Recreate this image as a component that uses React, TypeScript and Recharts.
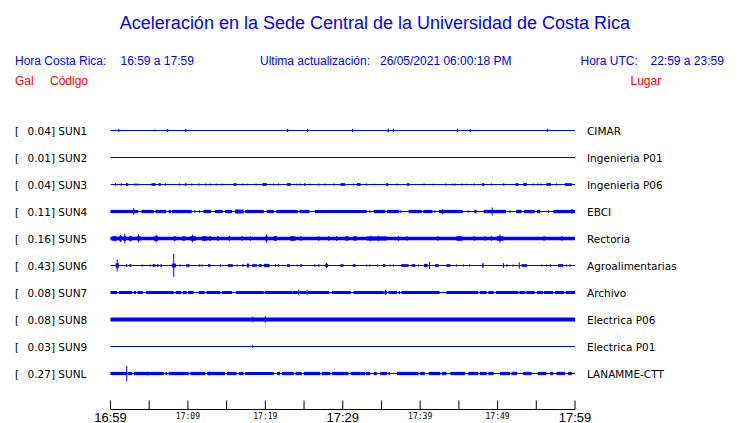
import React from "react";
import { ComposedChart, XAxis, YAxis, Line, ReferenceArea, ReferenceLine } from "recharts";

// time axis (minutes after 16:59)
const minutes = [0, 5, 10, 15, 20, 25, 30, 35, 40, 45, 50, 55, 60];
const tickLabels = ["16:59", "", "17:09", "", "17:19", "", "17:29", "", "17:39", "", "17:49", "", "17:59"];
const bigLabels = ["16:59", "17:29", "17:59"];
const span = [0, 60];

// stations
const gal = ["0.04", "0.01", "0.04", "0.11", "0.16", "0.43", "0.08", "0.08", "0.03", "0.27"];
const codes = ["SUN1", "SUN2", "SUN3", "SUN4", "SUN5", "SUN6", "SUN7", "SUN8", "SUN9", "SUNL"];
const places = ["CIMAR", "Ingenieria P01", "Ingenieria P06", "EBCI", "Rectoria", "Agroalimentarias", "Archivo", "Electrica P06", "Electrica P01", "LANAMME-CTT"];
const baselines = [10, 9, 8, 7, 6, 5, 4, 3, 2, 1];

// events: [t, amplitude] = spike ; [t0, t1, amplitude] = burst (Gal)
const sun1 = [[1.07, 0.06], [5.72, 0.03], [7.39, 0.06], [9.72, 0.06], [22.88, 0.06], [25.46, 0.06], [31.26, 0.06], [35.8, 35.95, 0.04], [35.87, 0.07], [36.55, 0.06], [44.81, 0.06], [46.48, 0.06], [56.43, 0.06]];
const sun2: number[][] = [];
const sun3 = [[0.65, 0.05], [1.4, 0.05], [2.0, 2.3, 0.05], [3.0, 3.65, 0.03], [5.3, 5.8, 0.05], [6.2, 6.5, 0.05], [7.1, 0.04], [8.9, 0.04], [9.6, 9.8, 0.05], [10.5, 0.04], [11.4, 0.04], [12.3, 0.04], [12.9, 0.04], [13.6, 13.7, 0.05], [14.4, 0.04], [15.9, 16.3, 0.05], [17.1, 0.04], [17.6, 17.7, 0.04], [18.8, 0.04], [19.6, 20.2, 0.05], [21.1, 0.04], [21.7, 0.04], [22.8, 23.3, 0.05], [24.1, 0.04], [24.5, 0.04], [25.0, 25.2, 0.05], [25.8, 0.04], [26.9, 0.04], [27.7, 0.04], [28.9, 0.04], [29.7, 30.3, 0.05], [31.4, 0.04], [31.8, 32.3, 0.05], [33.1, 0.04], [34.1, 0.03], [35.6, 35.9, 0.05], [37.0, 0.04], [38.3, 38.6, 0.05], [40.5, 0.04], [41.7, 0.03], [43.3, 0.04], [44.2, 0.04], [44.5, 0.04], [45.4, 0.04], [46.0, 0.03], [47.0, 0.04], [48.0, 48.3, 0.05], [49.2, 0.04], [50.8, 0.05], [52.3, 52.7, 0.05], [53.3, 53.8, 0.05], [54.6, 0.04], [55.2, 0.04], [55.6, 0.04], [56.3, 56.9, 0.05], [57.6, 0.04], [58.7, 59.6, 0.05]];
const sun4 = [[0, 3.57, 0.06], [3.0, 0.13], [4.0, 5.6, 0.06], [5.8, 7.2, 0.06], [7.5, 7.8, 0.06], [7.96, 10.5, 0.06], [10.9, 0.05], [11.5, 0.05], [12.0, 13.0, 0.06], [13.5, 14.5, 0.06], [14.8, 15.7, 0.06], [16.1, 17.2, 0.07], [17.4, 19.8, 0.06], [20.2, 21.1, 0.06], [21.4, 24.2, 0.06], [24.4, 25.7, 0.06], [26.4, 33.1, 0.06], [33.5, 0.05], [34.0, 35.5, 0.06], [35.7, 37.3, 0.06], [37.5, 0.05], [38.5, 40.2, 0.06], [40.4, 41.6, 0.06], [41.9, 0.05], [42.4, 45.5, 0.06], [42.9, 0.09], [46.2, 0.05], [47.0, 47.3, 0.06], [48.2, 51.1, 0.06], [49.3, 0.15], [51.6, 0.05], [52.4, 53.1, 0.06], [53.4, 54.8, 0.06], [55.1, 55.5, 0.06], [56.6, 0.05], [57.2, 60, 0.06], [59.6, 0.09]];
const sun5 = [[0, 60, 0.065], [0.2, 0.86, 0.08], [0.5, 0.1], [1.07, 1.5, 0.085], [1.3, 0.13], [1.7, 2.0, 0.09], [1.85, 0.18], [2.37, 2.8, 0.08], [2.6, 0.11], [3.44, 3.87, 0.085], [3.6, 0.15], [5.6, 6.15, 0.085], [5.9, 0.14], [8.17, 8.4, 0.08], [8.3, 0.1], [9.25, 9.68, 0.08], [10.3, 10.97, 0.085], [10.6, 0.14], [11.8, 12.5, 0.08], [12.1, 0.1], [12.7, 13.0, 0.08], [13.76, 13.98, 0.08], [15.35, 0.1], [17.0, 0.09], [18.06, 0.09], [20.0, 20.3, 0.085], [20.15, 0.15], [21.1, 21.5, 0.08], [21.3, 0.1], [23.2, 23.9, 0.08], [23.5, 0.1], [24.5, 24.7, 0.08], [26.9, 0.09], [28.2, 0.09], [29.2, 0.09], [30.3, 30.75, 0.08], [31.4, 31.8, 0.08], [33.1, 35.7, 0.075], [33.6, 0.1], [34.6, 0.1], [37.2, 0.09], [38.3, 0.09], [42.3, 0.09], [44.65, 45.5, 0.08], [45.0, 0.1], [46.9, 47.1, 0.08], [48.4, 0.09], [49.2, 0.09], [49.9, 50.75, 0.085], [50.3, 0.15], [56.0, 0.09], [58.3, 0.09]];
const sun6 = [[0.65, 1.1, 0.08], [0.86, 0.22], [2.0, 2.15, 0.05], [2.45, 2.7, 0.05], [4.1, 0.04], [5.1, 0.04], [5.45, 5.8, 0.05], [6.0, 6.2, 0.05], [6.45, 6.65, 0.05], [7.9, 8.45, 0.07], [8.17, 0.43], [9.0, 0.04], [9.75, 10.2, 0.05], [11.4, 11.6, 0.04], [11.85, 0.04], [12.6, 12.9, 0.05], [14.2, 0.05], [15.15, 15.8, 0.05], [16.35, 0.04], [17.0, 17.2, 0.05], [17.6, 17.9, 0.06], [17.75, 0.08], [18.3, 18.9, 0.05], [19.1, 19.55, 0.05], [19.8, 20.55, 0.06], [21.3, 0.05], [21.7, 0.05], [22.8, 23.2, 0.05], [24.1, 0.04], [24.5, 24.75, 0.05], [26.4, 0.05], [26.9, 0.05], [27.75, 28.1, 0.06], [27.9, 0.1], [29.7, 30.1, 0.05], [31.3, 31.65, 0.05], [33.1, 0.04], [33.5, 0.04], [34.5, 0.04], [35.2, 35.5, 0.05], [36.1, 0.04], [36.55, 0.04], [37.55, 38.5, 0.05], [38.9, 39.35, 0.05], [39.8, 0.04], [40.5, 40.95, 0.06], [41.2, 0.14], [41.9, 42.4, 0.05], [43.4, 43.9, 0.05], [44.7, 0.04], [45.6, 0.04], [46.4, 0.05], [48.0, 48.2, 0.08], [50.75, 0.09], [51.2, 0.05], [52.0, 0.04], [52.8, 0.12], [53.1, 53.8, 0.05], [55.7, 0.04], [56.3, 0.04], [56.8, 0.05], [57.8, 58.5, 0.05], [58.9, 0.04], [59.35, 0.05]];
const sun7 = [[0, 0.86, 0.055], [1.07, 2.8, 0.055], [3.0, 3.3, 0.055], [3.5, 4.17, 0.055], [4.6, 8.17, 0.055], [8.4, 9.16, 0.055], [9.33, 9.85, 0.055], [10.0, 10.75, 0.055], [11.4, 12.17, 0.055], [12.4, 14.2, 0.055], [14.4, 15.7, 0.055], [16.2, 19.8, 0.055], [19.9, 23.44, 0.055], [23.5, 24.2, 0.055], [24.3, 0.1], [24.4, 25.3, 0.055], [25.4, 0.1], [25.5, 28.26, 0.055], [28.6, 31.05, 0.055], [31.4, 35.3, 0.055], [35.4, 35.7, 0.055], [35.5, 0.1], [35.9, 37.0, 0.055], [37.2, 37.4, 0.055], [37.6, 42.5, 0.055], [43.4, 47.5, 0.055], [47.7, 48.6, 0.055], [48.8, 49.5, 0.055], [49.8, 52.7, 0.055], [52.8, 53.6, 0.055], [53.7, 54.8, 0.055], [55.1, 55.9, 0.055], [56.0, 57.2, 0.055], [57.4, 58.6, 0.055], [58.8, 60, 0.055]];
const sun8 = [[0, 60, 0.07], [18.37, 0.1], [20.0, 0.12]];
const sun9 = [[18.37, 0.05]];
const sunl = [[0, 2.15, 0.06], [2.1, 0.29], [2.28, 2.8, 0.06], [3.0, 6.9, 0.06], [4.8, 0.07], [7.1, 7.3, 0.06], [7.5, 10.1, 0.06], [10.3, 12.26, 0.06], [12.5, 14.8, 0.06], [12.8, 0.07], [15.05, 16.3, 0.06], [16.56, 17.2, 0.06], [17.4, 21.1, 0.06], [21.5, 21.9, 0.06], [22.15, 23.66, 0.06], [23.9, 24.7, 0.06], [24.95, 27.1, 0.06], [27.3, 28.4, 0.06], [28.6, 30.75, 0.06], [31.0, 32.9, 0.06], [33.0, 33.55, 0.06], [34.0, 34.4, 0.06], [34.8, 35.7, 0.06], [35.9, 36.1, 0.06], [37.0, 39.8, 0.06], [40.0, 40.6, 0.06], [41.1, 42.6, 0.06], [42.8, 43.4, 0.06], [43.9, 45.8, 0.06], [46.2, 47.5, 0.06], [47.7, 48.6, 0.06], [48.8, 49.5, 0.06], [50.3, 51.6, 0.06], [51.8, 52.5, 0.06], [53.3, 54.4, 0.06], [55.2, 56.3, 0.06], [56.8, 57.2, 0.06], [57.6, 58.7, 0.06], [59.1, 59.6, 0.06]];
const traces = [sun1, sun2, sun3, sun4, sun5, sun6, sun7, sun8, sun9, sunl];

const BLUE = "#0000ff";
const RED = "#ff0000";
const SANS = "'Liberation Sans', Arial, sans-serif";
const DEJAVU = "'DejaVu Sans', sans-serif";

const TimeTick = (props: any) => {
  const { x, y, payload } = props;
  const i = minutes.indexOf(payload.value);
  const label = tickLabels[i] || "";
  const big = bigLabels.includes(label);
  return (
    <g>
      <line x1={x} x2={x} y1={y} y2={y - 9} stroke="#000" strokeWidth={1} />
      {label ? (
        <text
          x={x}
          y={y + (big ? 12 : 9)}
          textAnchor="middle"
          fontFamily={big ? SANS : "'DejaVu Sans Mono', monospace"}
          fontSize={big ? 13 : 8}
          fill="#000"
        >
          {label}
        </text>
      ) : null}
    </g>
  );
};

const LeftTick = (props: any) => {
  const { y, payload } = props;
  const i = baselines.indexOf(payload.value);
  if (i < 0) return <g />;
  return (
    <text y={y + 4} fontFamily={DEJAVU} fontSize={10.5} fill="#000">
      <tspan x={15}>[</tspan>
      <tspan x={27.5}>{`${gal[i]}] ${codes[i]}`}</tspan>
    </text>
  );
};

const RightTick = (props: any) => {
  const { y, payload } = props;
  const i = baselines.indexOf(payload.value);
  if (i < 0) return <g />;
  return (
    <text x={587} y={y + 4} fontFamily={DEJAVU} fontSize={10.5} fill="#000">
      {places[i]}
    </text>
  );
};

export default function App() {
  const marks: React.ReactNode[] = [];
  traces.forEach((ev, ti) => {
    const b = baselines[ti];
    ev.forEach((e, k) => {
      if (e.length === 2) {
        marks.push(
          <ReferenceLine
            key={`s${ti}-${k}`}
            yAxisId="l"
            segment={[{ x: e[0], y: b - e[1] }, { x: e[0], y: b + e[1] }]}
            stroke={BLUE}
            strokeWidth={1}
            ifOverflow="visible"
          />
        );
      } else {
        marks.push(
          <ReferenceArea
            key={`a${ti}-${k}`}
            yAxisId="l"
            x1={e[0]}
            x2={e[1]}
            y1={b - e[2]}
            y2={b + e[2]}
            fill={BLUE}
            fillOpacity={1}
            stroke="none"
            ifOverflow="visible"
          />
        );
      }
    });
  });

  return (
    <div style={{ position: "absolute", left: 0, top: 0, width: 740, height: 423, background: "#fff" }}>
      <svg width={740} height={100} style={{ position: "absolute", left: 0, top: 0 }}>
        <text x={375} y={29} textAnchor="middle" fontFamily={SANS} fontSize={18} fill={BLUE}>
          Aceleración en la Sede Central de la Universidad de Costa Rica
        </text>
        <g fontFamily={SANS} fontSize={12} fill={BLUE}>
          <text x={15} y={65}>Hora Costa Rica:</text>
          <text x={120.5} y={65}>16:59 a 17:59</text>
          <text x={260} y={65}>Ultima actualización:</text>
          <text x={380} y={65}>26/05/2021 06:00:18 PM</text>
          <text x={580.5} y={65}>Hora UTC:</text>
          <text x={650.5} y={65}>22:59 a 23:59</text>
        </g>
        <g fontFamily={SANS} fontSize={12} fill={RED}>
          <text x={15} y={85}>Gal</text>
          <text x={50} y={85}>Código</text>
          <text x={630.5} y={85}>Lugar</text>
        </g>
      </svg>
      <div style={{ position: "absolute", left: 0, top: 0 }}>
        <ComposedChart width={740} height={423} margin={{ top: 103.5, right: 0, left: 0, bottom: 0 }}>
          <XAxis
            dataKey="t"
            type="number"
            domain={span}
            ticks={minutes}
            interval={0}
            height={13.5}
            tickSize={0}
            tickMargin={0}
            tickLine={false}
            axisLine={{ stroke: "#000", strokeWidth: 1 }}
            tick={<TimeTick />}
            allowDataOverflow
          />
          <YAxis
            yAxisId="l"
            orientation="left"
            type="number"
            domain={[-1 / 3, 11]}
            ticks={baselines}
            interval={0}
            width={110.5}
            axisLine={false}
            tickLine={false}
            tick={<LeftTick />}
            allowDataOverflow
          />
          <YAxis
            yAxisId="r"
            orientation="right"
            type="number"
            domain={[-1 / 3, 11]}
            ticks={baselines}
            interval={0}
            width={165}
            axisLine={false}
            tickLine={false}
            tick={<RightTick />}
            allowDataOverflow
          />
          {marks}
          {baselines.map((b, i) => (
            <Line
              key={codes[i]}
              yAxisId="l"
              data={span.map((t) => ({ t, y: b }))}
              dataKey="y"
              stroke={BLUE}
              strokeWidth={1}
              dot={false}
              activeDot={false}
              isAnimationActive={false}
            />
          ))}
        </ComposedChart>
      </div>
    </div>
  );
}
